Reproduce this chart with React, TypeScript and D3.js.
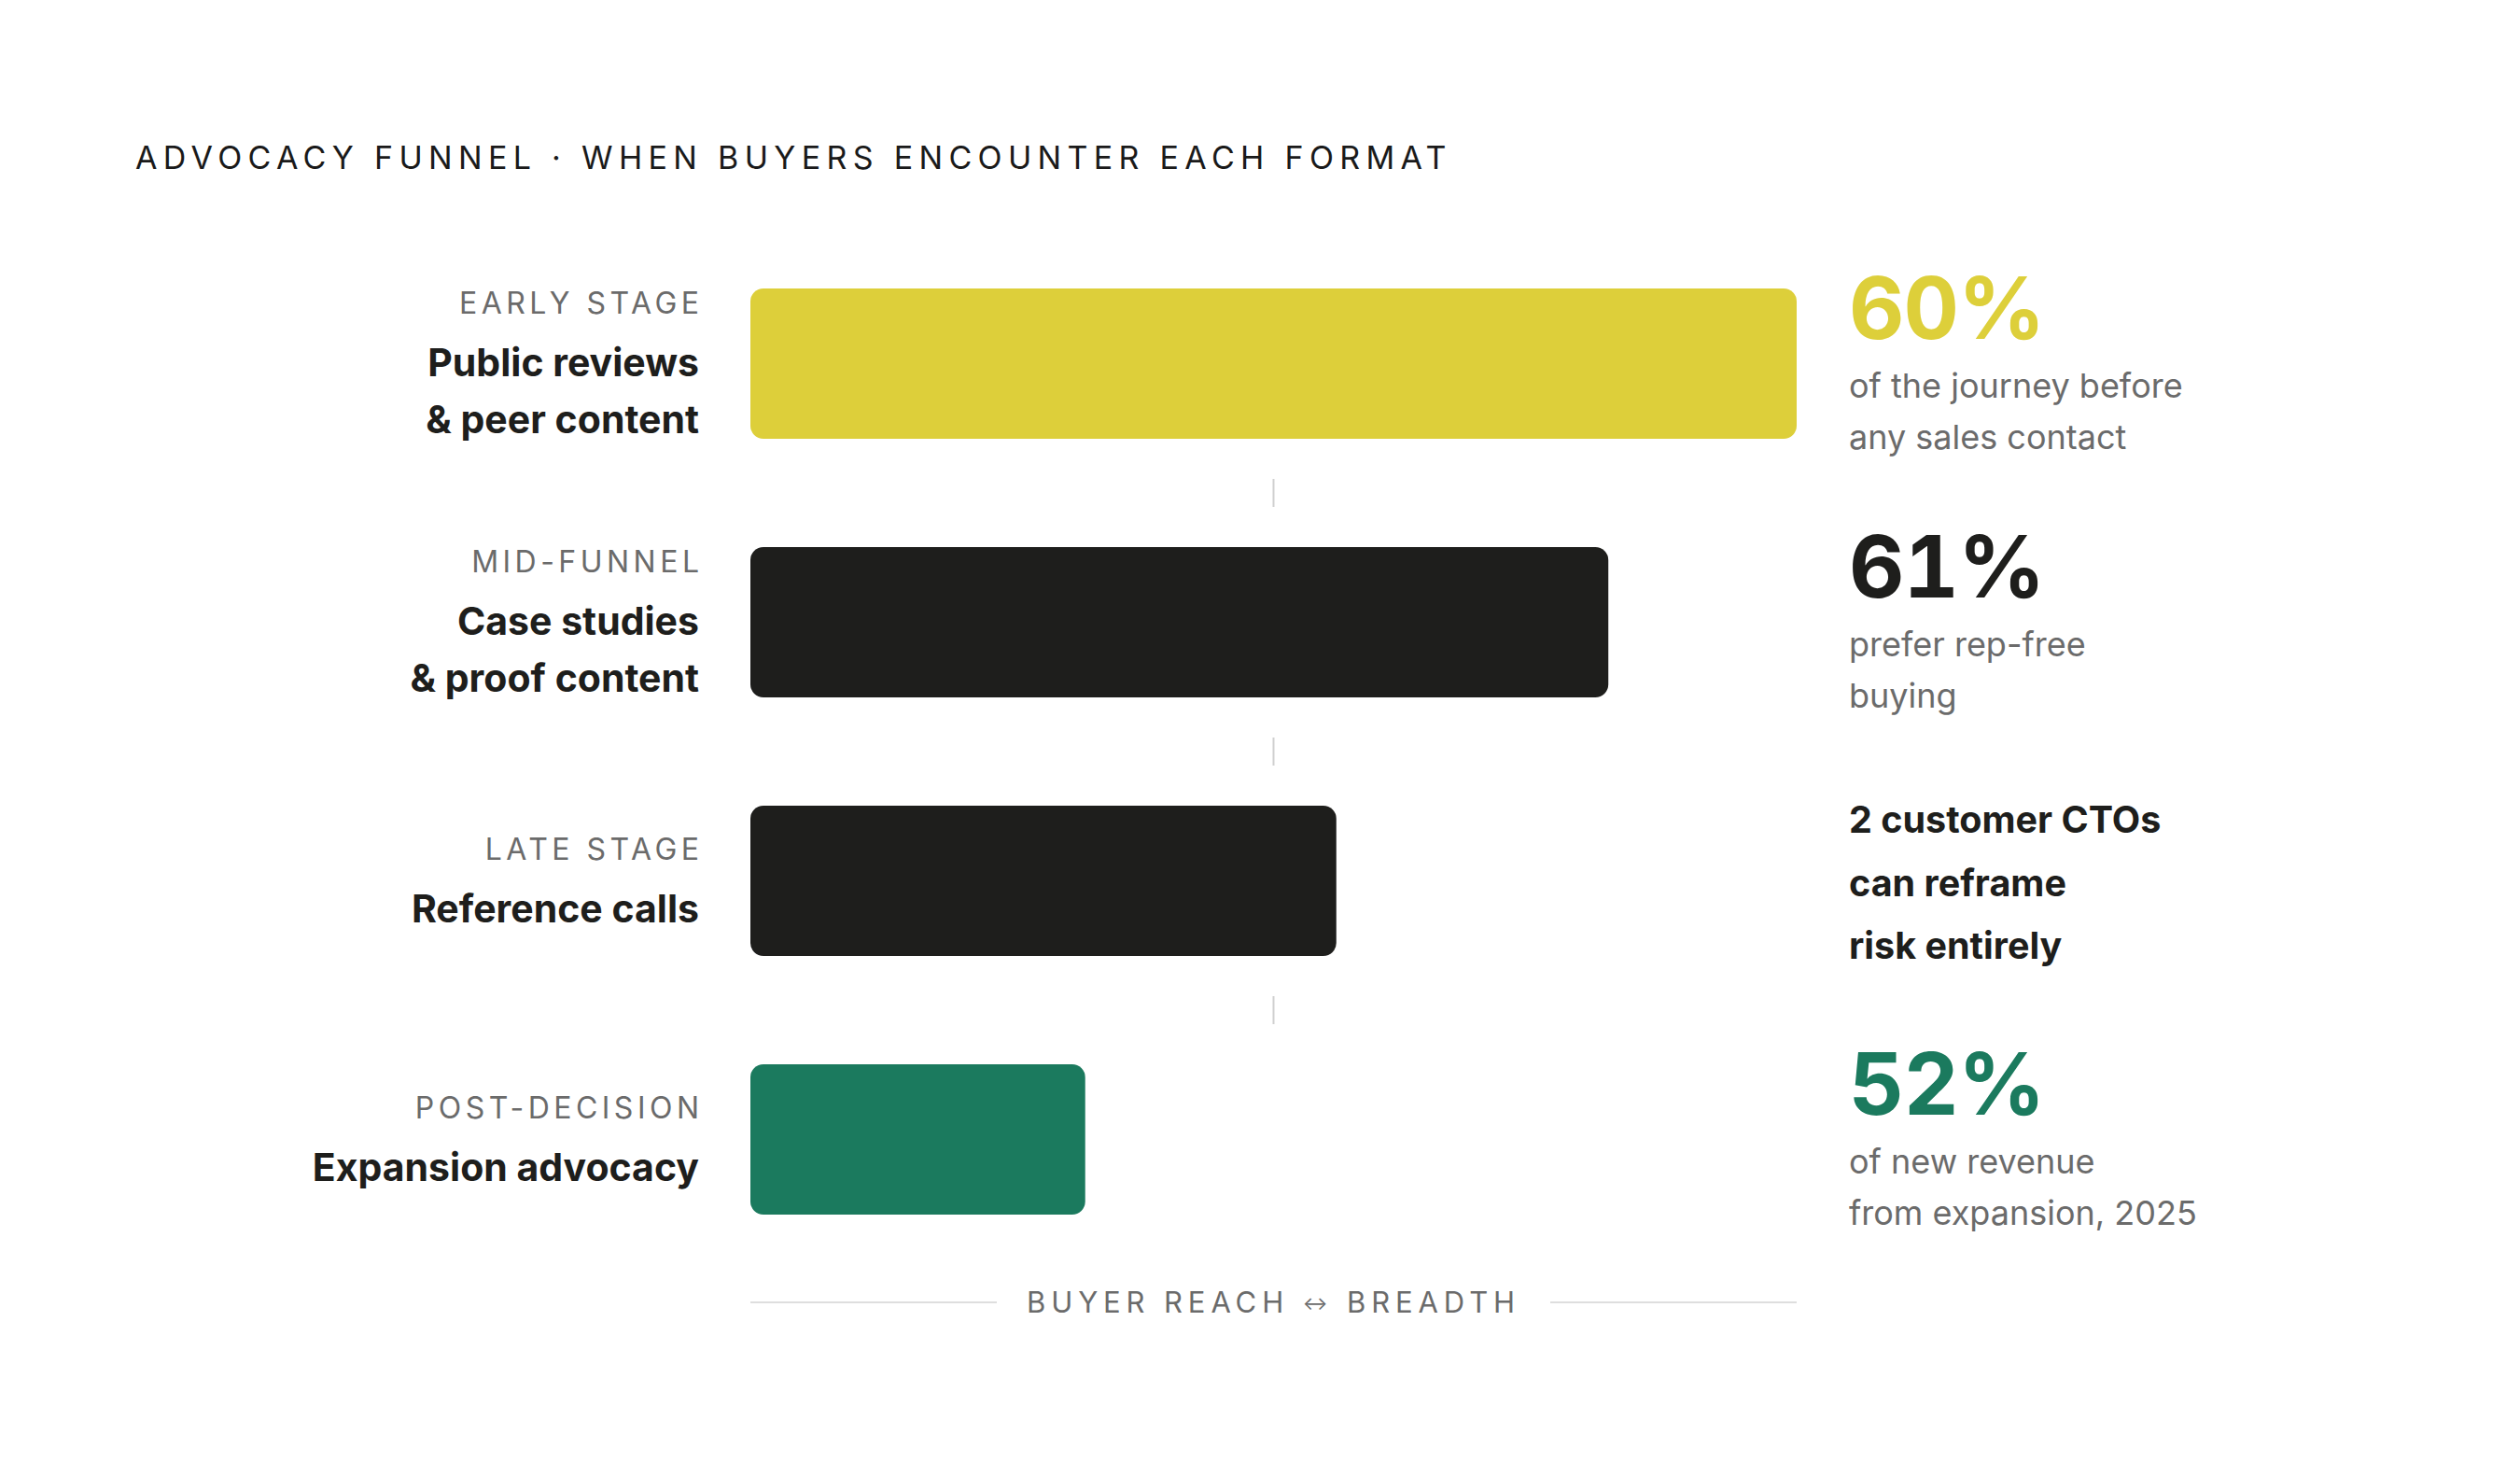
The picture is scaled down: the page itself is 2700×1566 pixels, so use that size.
import React, { useEffect, useRef } from "react";
import * as d3 from "d3";

const WIDTH = 2700;
const HEIGHT = 1566;

const title = "ADVOCACY FUNNEL · WHEN BUYERS ENCOUNTER EACH FORMAT";
const stages = ["EARLY STAGE", "MID-FUNNEL", "LATE STAGE", "POST-DECISION"];
const formats = [
  ["Public reviews", "& peer content"],
  ["Case studies", "& proof content"],
  ["Reference calls"],
  ["Expansion advocacy"],
];
const reach = [100, 82, 56, 32];
const barColors = ["#DDCF3A", "#1E1E1C", "#1E1E1C", "#1B7A5E"];
const stats = ["60%", "61%", "", "52%"];
const notes = [
  ["of the journey before", "any sales contact"],
  ["prefer rep-free", "buying"],
  ["2 customer CTOs", "can reframe", "risk entirely"],
  ["of new revenue", "from expansion, 2025"],
];
const axisLeft = "BUYER REACH ";
const axisArrow = "↔";
const axisRight = " BREADTH";

const FONT = "Inter, 'Noto Sans', 'DejaVu Sans', sans-serif";
const GRAY = "#6B6B6B";
const DARK = "#1E1E1C";

export default function App() {
  const ref = useRef<SVGSVGElement | null>(null);

  useEffect(() => {
    const svg = d3.select(ref.current);
    svg.selectAll("*").remove();

    const x = d3.scaleLinear().domain([0, 100]).range([804, 1925]);
    const bandH = 161;
    const step = 277;
    const y = d3
      .scaleBand<string>()
      .domain(stages)
      .range([309, 309 + step * (stages.length - 1) + bandH])
      .paddingInner(1 - bandH / step)
      .paddingOuter(0);

    svg
      .append("rect")
      .attr("width", WIDTH)
      .attr("height", HEIGHT)
      .attr("fill", "#FFFFFF");

    // Title
    svg
      .append("text")
      .attr("x", 145)
      .attr("y", 181)
      .attr("font-family", FONT)
      .attr("font-size", 34)
      .attr("letter-spacing", "0.186em")
      .attr("fill", "#1A1A1A")
      .text(title);

    // Connectors
    for (let i = 0; i < stages.length - 1; i++) {
      const y0 = (y(stages[i]) as number) + y.bandwidth();
      const y1 = y(stages[i + 1]) as number;
      const mid = (y0 + y1) / 2;
      svg
        .append("line")
        .attr("x1", x(50))
        .attr("x2", x(50))
        .attr("y1", mid - 15)
        .attr("y2", mid + 15)
        .attr("stroke", "#D0D0D0")
        .attr("stroke-width", 2);
    }

    // Bars
    svg
      .append("g")
      .selectAll("rect")
      .data(stages)
      .join("rect")
      .attr("x", x(0))
      .attr("y", (d) => y(d) as number)
      .attr("width", (_, i) => x(reach[i]) - x(0))
      .attr("height", y.bandwidth())
      .attr("rx", 14)
      .attr("fill", (_, i) => barColors[i]);

    // Left labels
    const labelX = 749;
    stages.forEach((s, i) => {
      const c = (y(s) as number) + y.bandwidth() / 2;
      const n = formats[i].length;
      const shift = (n - 1) * 31;
      svg
        .append("text")
        .attr("x", labelX + 4.5)
        .attr("y", c - 23 - shift)
        .attr("text-anchor", "end")
        .attr("font-family", FONT)
        .attr("font-size", 32)
        .attr("letter-spacing", "0.14em")
        .attr("fill", GRAY)
        .text(s);
      formats[i].forEach((line, j) => {
        svg
          .append("text")
          .attr("x", labelX)
          .attr("y", c + 44 - shift + j * 61)
          .attr("text-anchor", "end")
          .attr("font-family", FONT)
          .attr("font-size", 41)
          .attr("font-weight", 700)
          .attr("fill", DARK)
          .text(line);
      });
    });

    // Right annotations
    const noteX = 1981;
    stages.forEach((s, i) => {
      const c = (y(s) as number) + y.bandwidth() / 2;
      if (stats[i]) {
        svg
          .append("text")
          .attr("x", noteX)
          .attr("y", c - 27)
          .attr("font-family", FONT)
          .attr("font-size", 92)
          .attr("font-weight", 700)
          .attr("letter-spacing", "-0.01em")
          .style("font-feature-settings", "'tnum' 1")
          .attr("fill", barColors[i])
          .text(stats[i]);
        notes[i].forEach((line, j) => {
          svg
            .append("text")
            .attr("x", noteX)
            .attr("y", c + 36 + j * 55)
            .attr("font-family", FONT)
            .attr("font-size", 36)
            .attr("fill", GRAY)
            .text(line);
        });
      } else {
        notes[i].forEach((line, j) => {
          svg
            .append("text")
            .attr("x", noteX)
            .attr("y", c - 51.5 + j * 67.5)
            .attr("font-family", FONT)
            .attr("font-size", 39.5)
            .attr("font-weight", 700)
            .attr("fill", DARK)
            .text(line);
        });
      }
    });

    // Axis footer
    const axisY = 1395;
    const cx = x(50);
    const axisText = svg
      .append("text")
      .attr("x", cx)
      .attr("y", 1406)
      .attr("text-anchor", "middle")
      .attr("font-family", FONT)
      .attr("font-size", 31)
      .attr("letter-spacing", "0.19em")
      .attr("fill", GRAY);
    axisText.append("tspan").text(axisLeft);
    axisText
      .append("tspan")
      .attr("font-size", 20)
      .attr("dy", -3)
      .text(axisArrow);
    axisText.append("tspan").attr("dy", 3).text(axisRight);
    const node = axisText.node() as SVGTextElement;
    let half = 259;
    try {
      const w = node.getComputedTextLength();
      if (w > 0) half = w / 2;
    } catch (e) {}
    const gap = 32;
    svg
      .append("line")
      .attr("x1", x(0))
      .attr("x2", cx - half - gap)
      .attr("y1", axisY)
      .attr("y2", axisY)
      .attr("stroke", "#DEDEDE")
      .attr("stroke-width", 2);
    svg
      .append("line")
      .attr("x1", cx + half + gap)
      .attr("x2", x(100))
      .attr("y1", axisY)
      .attr("y2", axisY)
      .attr("stroke", "#DEDEDE")
      .attr("stroke-width", 2);
  }, []);

  return (
    <svg
      ref={ref}
      width={WIDTH}
      height={HEIGHT}
      viewBox={`0 0 ${WIDTH} ${HEIGHT}`}
      style={{ position: "absolute", left: 0, top: 0, display: "block" }}
    />
  );
}
